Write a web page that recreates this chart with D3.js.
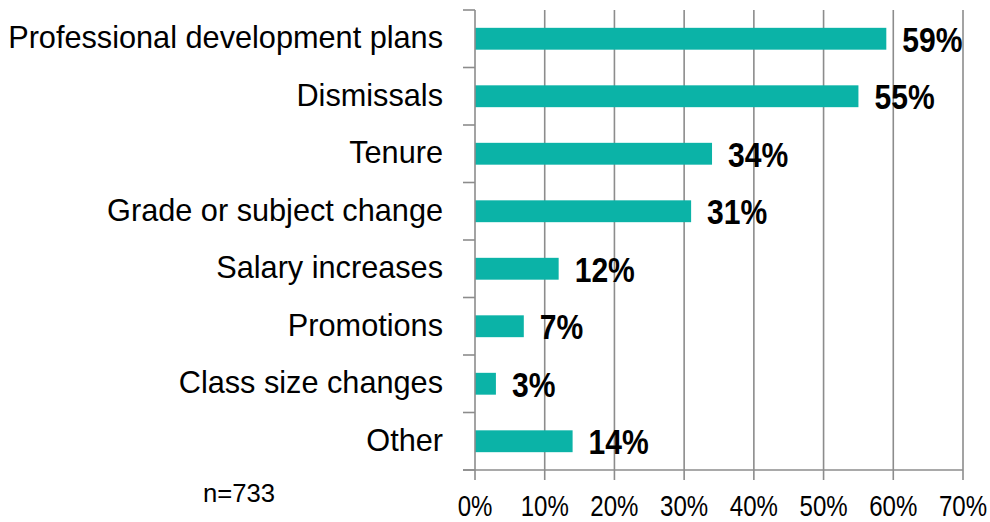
<!DOCTYPE html>
<html>
<head>
<meta charset="utf-8">
<script src="https://cdn.jsdelivr.net/npm/d3@7"></script>
<style>
  body { margin: 0; background: #fff; }
  text { font-family: "Liberation Sans", Arial, sans-serif; fill: #000; }
</style>
</head>
<body>
<div id="chart"></div>
<script>
var categories = ["Professional development plans", "Dismissals", "Tenure", "Grade or subject change",
                  "Salary increases", "Promotions", "Class size changes", "Other"];
var values = [59, 55, 34, 31, 12, 7, 3, 14];
var xTicks = [0, 10, 20, 30, 40, 50, 60, 70];
var note = "n=733";

var width = 990, height = 522;
var plot = { left: 475, right: 963, top: 10, bottom: 470 };
var grey = "#8c8c8c";

var svg = d3.select("#chart").append("svg")
    .attr("width", width)
    .attr("height", height);

var x = d3.scaleLinear().domain([0, 70]).range([plot.left, plot.right]);
var y = d3.scaleBand().domain(categories).range([plot.top, plot.bottom])
    .paddingInner(0.62).paddingOuter(0.31);
var band = d3.scaleBand().domain(categories).range([plot.top, plot.bottom]);

// squeeze text horizontally (the original font is a narrow face)
function place(sx) {
  return function(sel) {
    sel.attr("transform", function(d, i) {
      return "translate(" + this.__x + "," + this.__y + ") scale(" + sx + ",1)";
    });
  };
}

// gridlines
svg.append("g").selectAll("line")
  .data(xTicks.slice(1))
  .enter().append("line")
  .attr("x1", function(d) { return x(d); })
  .attr("x2", function(d) { return x(d); })
  .attr("y1", plot.top)
  .attr("y2", plot.bottom + 10)
  .attr("stroke", grey)
  .attr("stroke-width", 1.6);

// bars
svg.append("g").selectAll("rect")
  .data(categories)
  .enter().append("rect")
  .attr("x", x(0))
  .attr("y", function(d) { return y(d); })
  .attr("width", function(d, i) { return x(values[i]) - x(0); })
  .attr("height", y.bandwidth())
  .attr("fill", "#0bb3a7");

// y axis with ticks on band boundaries
var ya = svg.append("g");
ya.append("line")
  .attr("x1", plot.left).attr("x2", plot.left)
  .attr("y1", plot.top).attr("y2", plot.bottom + 10)
  .attr("stroke", grey).attr("stroke-width", 1.6);
ya.selectAll(".tk")
  .data(categories.concat(["end"]))
  .enter().append("line")
  .attr("class", "tk")
  .attr("x1", plot.left - 12).attr("x2", plot.left)
  .attr("y1", function(d, i) { return i < categories.length ? band(d) : plot.bottom; })
  .attr("y2", function(d, i) { return i < categories.length ? band(d) : plot.bottom; })
  .attr("stroke", grey).attr("stroke-width", 1.6);

// x axis line
svg.append("line")
  .attr("x1", plot.left - 12).attr("x2", plot.right)
  .attr("y1", plot.bottom).attr("y2", plot.bottom)
  .attr("stroke", grey).attr("stroke-width", 1.6);

// category labels
svg.append("g").selectAll("text")
  .data(categories)
  .enter().append("text")
  .each(function(d) { this.__x = 443; this.__y = band(d) + band.bandwidth() / 2 + 9.5; })
  .attr("text-anchor", "end")
  .style("font-size", "31px")
  .text(function(d) { return d; })
  .call(place(0.99));

// value labels
svg.append("g").selectAll("text")
  .data(categories)
  .enter().append("text")
  .each(function(d, i) { this.__x = x(values[i]) + 16; this.__y = band(d) + band.bandwidth() / 2 + 13; })
  .style("font-size", "35px")
  .style("font-weight", "bold")
  .text(function(d, i) { return values[i] + "%"; })
  .call(place(0.86));

// x tick labels
svg.append("g").selectAll("text")
  .data(xTicks)
  .enter().append("text")
  .each(function(d) { this.__x = x(d); this.__y = 516; })
  .attr("text-anchor", "middle")
  .style("font-size", "29px")
  .text(function(d) { return d + "%"; })
  .call(place(0.83));

svg.append("text")
  .datum(note)
  .each(function() { this.__x = 239; this.__y = 502; })
  .attr("text-anchor", "middle")
  .style("font-size", "26.5px")
  .text(note)
  .call(place(0.97));
</script>
</body>
</html>
